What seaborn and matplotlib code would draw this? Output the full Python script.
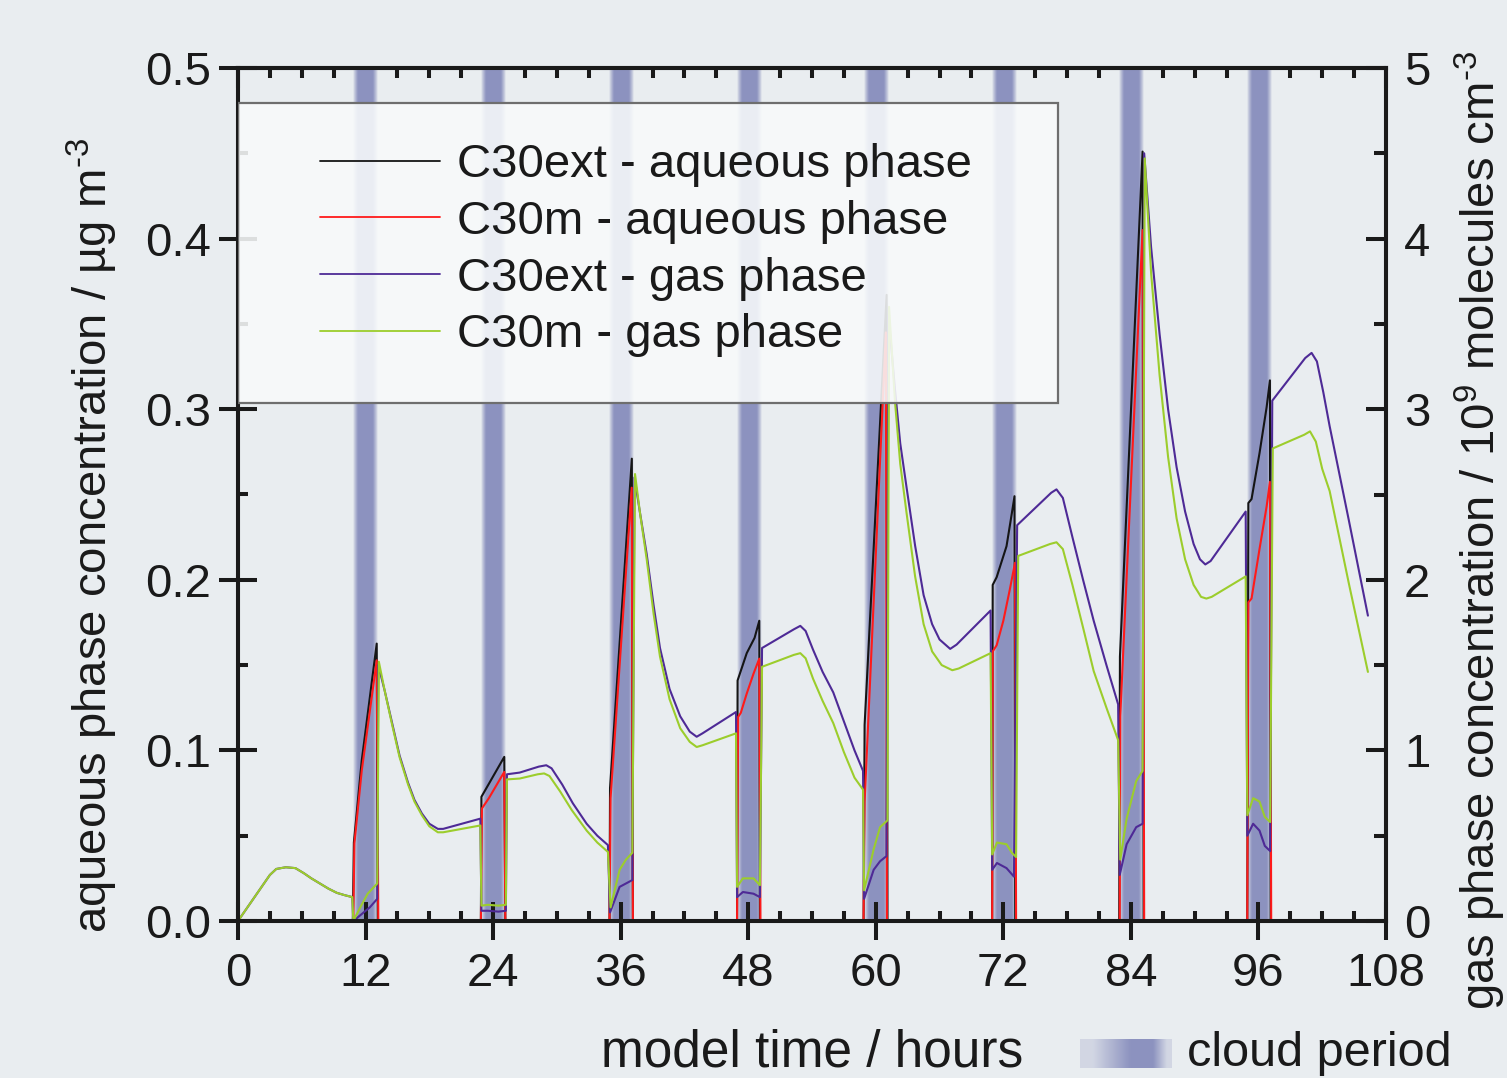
import matplotlib
matplotlib.use('Agg')
import matplotlib.pyplot as plt
import numpy as np
import seaborn as sns
from matplotlib.lines import Line2D
from matplotlib.patches import Rectangle
from matplotlib.ticker import MultipleLocator, FormatStrFormatter

# cloud periods (model hours)
cloud_start = [10.85, 22.85, 34.9, 46.9, 58.85, 70.9, 82.9, 94.9]
cloud_end = [13.15, 25.15, 37.2, 49.2, 61.15, 73.2, 85.2, 97.2]

# C30ext - aqueous phase (µg m-3)
aq_ext_t = [0.0, 10.8, 10.9, 11.64, 13.05, 13.15, 22.85, 22.9, 25.05, 25.15, 34.95, 35.0, 37.05, 37.15,
            46.95, 47.0, 47.86, 48.6, 49.04, 49.1, 58.85, 58.95, 61.02, 61.1, 70.95, 71.0, 71.37, 72.3, 72.8,
            73.05, 73.12, 82.9, 82.97, 85.1, 85.2, 94.95, 95.05, 95.35, 96.1, 96.77, 97.08, 97.15, 106.3]
aq_ext_v = [0.0, 0.0, 0.046, 0.094, 0.1626, 0.0, 0.0, 0.0728, 0.0962, 0.0, 0.0, 0.078, 0.271, 0.0,
            0.0, 0.141, 0.157, 0.166, 0.176, 0.0, 0.0, 0.115, 0.367, 0.0, 0.0, 0.197, 0.2015, 0.2197, 0.239,
            0.249, 0.0, 0.0, 0.155, 0.451, 0.0, 0.0, 0.245, 0.2473, 0.2742, 0.3012, 0.3169, 0.0, 0.0]

# C30m - aqueous phase (µg m-3)
aq_m_t = [0.0, 10.85, 10.95, 11.64, 13.05, 13.2, 22.85, 22.95, 23.6, 25.05, 25.15, 34.95, 35.05, 37.04, 37.15,
          46.95, 47.05, 47.3, 47.86, 48.5, 49.04, 49.15, 58.85, 58.95, 60.95, 61.05, 70.95, 71.0, 71.37, 72.0,
          72.6, 73.1, 73.2, 82.95, 83.0, 85.1, 85.25, 94.95, 95.05, 95.35, 96.1, 96.77, 97.08, 97.2, 106.3]
aq_m_v = [0.0, 0.0, 0.0455, 0.088, 0.1528, 0.0, 0.0, 0.066, 0.072, 0.0874, 0.0, 0.0, 0.072, 0.254, 0.0,
          0.0, 0.1196, 0.122, 0.1333, 0.145, 0.1538, 0.0, 0.0, 0.07, 0.345, 0.0, 0.0, 0.158, 0.1616, 0.176,
          0.194, 0.210, 0.0, 0.0, 0.12, 0.405, 0.0, 0.0, 0.1868, 0.189, 0.218, 0.243, 0.2574, 0.0, 0.0]

# C30ext - gas phase (10^9 molecules cm-3)
gas_ext_t = [0.0, 3.0, 3.6, 4.5, 5.4, 6.2, 6.9, 7.7, 8.5, 9.3, 10.0, 10.75,
             10.85, 12.4, 13.1, 13.2, 13.8, 14.5, 15.2, 16.0, 16.6, 17.3, 18.0, 18.8, 19.3, 22.8,
             22.9, 23.5, 24.5, 25.2, 25.3, 26.5, 28.3, 29.0, 29.5, 30.5, 31.5, 32.8, 33.8, 34.8,
             35.0, 35.9, 36.5, 37.1, 37.3, 37.8, 38.45, 39.1, 39.7, 40.6, 41.6, 42.5, 43.15, 43.7, 46.85,
             46.95, 47.5, 48.5, 49.1, 49.3, 52.3, 52.9, 53.4, 54.1, 55.0, 56.0, 57.0, 58.0, 58.8,
             58.9, 59.8, 60.4, 61.0, 61.2, 61.8, 62.3, 62.9, 63.7, 64.5, 65.3, 66.0, 67.0, 67.6, 70.8,
             70.95, 71.4, 72.3, 73.0, 73.3, 76.5, 77.0, 77.6, 78.5, 79.5, 80.5, 81.7, 82.8,
             82.95, 83.6, 84.5, 85.1, 85.25, 85.9, 86.7, 87.5, 88.3, 89.1, 89.9, 90.5, 91.0, 91.5, 94.8,
             94.95, 95.5, 96.1, 96.6, 97.1, 97.3, 100.4, 101.0, 101.5, 102.1, 102.7, 104.5, 106.3]
gas_ext_v = [0.0, 0.27, 0.305, 0.315, 0.31, 0.28, 0.25, 0.22, 0.19, 0.165, 0.152, 0.14,
             0.0, 0.08, 0.13, 1.50, 1.35, 1.16, 0.97, 0.81, 0.71, 0.63, 0.57, 0.54, 0.54, 0.60,
             0.06, 0.06, 0.055, 0.06, 0.86, 0.87, 0.905, 0.913, 0.895, 0.80, 0.69, 0.57, 0.50, 0.445,
             0.05, 0.20, 0.22, 0.24, 2.60, 2.40, 2.15, 1.85, 1.60, 1.36, 1.20, 1.11, 1.08, 1.10, 1.225,
             0.14, 0.17, 0.16, 0.14, 1.60, 1.71, 1.73, 1.70, 1.59, 1.46, 1.34, 1.17, 1.00, 0.88,
             0.13, 0.30, 0.35, 0.38, 3.55, 3.12, 2.80, 2.54, 2.20, 1.91, 1.74, 1.65, 1.595, 1.62, 1.82,
             0.30, 0.34, 0.31, 0.26, 2.32, 2.51, 2.53, 2.48, 2.25, 2.00, 1.76, 1.50, 1.27,
             0.27, 0.45, 0.55, 0.57, 4.50, 3.95, 3.44, 3.00, 2.66, 2.40, 2.21, 2.12, 2.09, 2.11, 2.40,
             0.50, 0.57, 0.53, 0.44, 0.41, 3.05, 3.30, 3.33, 3.28, 3.10, 2.90, 2.35, 1.79]

# C30m - gas phase (10^9 molecules cm-3)
gas_m_t = [0.0, 3.0, 3.6, 4.5, 5.4, 6.2, 6.9, 7.7, 8.5, 9.3, 10.0, 10.75,
           10.85, 11.5, 12.2, 13.1, 13.25, 13.8, 14.5, 15.2, 16.0, 16.6, 17.3, 18.0, 18.8, 19.3, 22.8,
           22.9, 23.5, 24.5, 25.2, 25.3, 26.5, 28.2, 28.8, 29.3, 30.3, 31.4, 32.8, 33.8, 34.8,
           35.05, 35.9, 36.5, 37.1, 37.35, 37.8, 38.45, 39.1, 39.7, 40.6, 41.6, 42.5, 43.15, 43.7, 46.85,
           46.95, 47.5, 48.5, 49.1, 49.3, 52.3, 52.9, 53.4, 54.1, 55.0, 56.0, 57.0, 58.0, 58.8,
           58.9, 59.8, 60.4, 61.1, 61.25, 61.8, 62.3, 62.9, 63.7, 64.5, 65.3, 66.2, 67.2, 67.8, 70.8,
           70.95, 71.4, 72.3, 72.8, 73.2, 73.4, 76.4, 77.0, 77.6, 78.5, 79.5, 80.5, 81.7, 82.8,
           83.0, 83.6, 84.5, 85.1, 85.3, 85.9, 86.7, 87.5, 88.3, 89.1, 89.9, 90.6, 91.1, 91.6, 94.8,
           94.95, 95.5, 96.1, 96.6, 97.1, 97.35, 100.3, 100.85, 101.4, 102.0, 102.7, 104.5, 106.3]
gas_m_v = [0.0, 0.27, 0.305, 0.315, 0.31, 0.28, 0.25, 0.22, 0.19, 0.165, 0.152, 0.14,
           0.0, 0.08, 0.16, 0.22, 1.52, 1.35, 1.15, 0.96, 0.80, 0.70, 0.62, 0.555, 0.52, 0.52, 0.56,
           0.09, 0.095, 0.09, 0.095, 0.83, 0.835, 0.86, 0.865, 0.85, 0.76, 0.65, 0.53, 0.46, 0.405,
           0.08, 0.30, 0.36, 0.40, 2.62, 2.40, 2.12, 1.80, 1.55, 1.30, 1.13, 1.05, 1.02, 1.03, 1.10,
           0.20, 0.25, 0.25, 0.21, 1.49, 1.56, 1.57, 1.54, 1.42, 1.29, 1.16, 0.99, 0.84, 0.77,
           0.18, 0.42, 0.55, 0.59, 3.60, 3.05, 2.68, 2.39, 2.02, 1.74, 1.58, 1.50, 1.47, 1.48, 1.57,
           0.39, 0.46, 0.45, 0.40, 0.375, 2.14, 2.21, 2.22, 2.18, 1.97, 1.72, 1.465, 1.25, 1.06,
           0.36, 0.60, 0.82, 0.88, 4.47, 3.80, 3.20, 2.72, 2.36, 2.12, 1.97, 1.90, 1.89, 1.90, 2.02,
           0.62, 0.72, 0.70, 0.61, 0.58, 2.77, 2.85, 2.87, 2.81, 2.65, 2.52, 1.98, 1.46]

labels = ['C30ext - aqueous phase', 'C30m - aqueous phase', 'C30ext - gas phase', 'C30m - gas phase']
colors = ['#151515', '#ff1a1a', '#4e2a96', '#9ccd2c']

bg = '#e9edf0'
sns.set_theme(style='ticks')
plt.rcParams['font.family'] = ['Liberation Sans', 'DejaVu Sans']
plt.rcParams['mathtext.fontset'] = 'custom'
plt.rcParams['mathtext.rm'] = 'Liberation Sans'
plt.rcParams['mathtext.default'] = 'regular'
plt.rcParams['text.color'] = '#1a1a1a'

fig = plt.figure(figsize=(15.07, 10.78), dpi=100, facecolor=bg)
ax = fig.add_axes([238 / 1507, 1 - 921 / 1078, 1148 / 1507, 853 / 1078])
ax.set_facecolor(bg)
ax2 = ax.twinx()

# cloud period bands: soft-edged blue columns
n = 80
xs = np.linspace(0, 1, n)
alpha = np.clip(np.minimum(xs, 1 - xs) / 0.2, 0, 1) ** 0.8
band = np.zeros((1, n, 4))
band[..., 0] = 0.55
band[..., 1] = 0.575
band[..., 2] = 0.75
band[..., 3] = alpha
for s, e in zip(cloud_start, cloud_end):
    ax.imshow(band, extent=[s, e, 0, 0.5], aspect='auto', interpolation='bilinear', zorder=0.5)

lw = 1.5
sns.lineplot(x=aq_ext_t, y=aq_ext_v, ax=ax, color=colors[0], lw=lw, estimator=None, sort=False, zorder=3)
sns.lineplot(x=aq_m_t, y=aq_m_v, ax=ax, color=colors[1], lw=lw, estimator=None, sort=False, zorder=4)
sns.lineplot(x=gas_ext_t, y=gas_ext_v, ax=ax2, color=colors[2], lw=lw, estimator=None, sort=False, zorder=2)
sns.lineplot(x=gas_m_t, y=gas_m_v, ax=ax2, color=colors[3], lw=lw, estimator=None, sort=False, zorder=2)

ax.set_xlim(0, 108)
ax.set_ylim(0, 0.5)
ax2.set_ylim(0, 5)
ax.set_xlabel('')
ax.set_ylabel('')
ax2.set_ylabel('')

ax.xaxis.set_major_locator(MultipleLocator(12))
ax.xaxis.set_minor_locator(MultipleLocator(3))
ax.yaxis.set_major_locator(MultipleLocator(0.1))
ax.yaxis.set_minor_locator(MultipleLocator(0.05))
ax.yaxis.set_major_formatter(FormatStrFormatter('%.1f'))
ax2.yaxis.set_major_locator(MultipleLocator(1))
ax2.yaxis.set_minor_locator(MultipleLocator(0.5))

fs = 34
tc = '#1a1a1a'
ax.tick_params(axis='x', which='major', direction='inout', length=27, width=2.9, pad=9, labelsize=fs,
               color=tc, labelcolor=tc, top=False)
ax.tick_params(axis='x', which='minor', direction='in', length=7, width=2.9, color=tc, top=False)
ax.tick_params(axis='y', which='major', direction='inout', length=27, width=2.9, pad=6, labelsize=fs,
               color=tc, labelcolor=tc, right=False)
ax.tick_params(axis='y', which='minor', direction='in', length=7, width=2.9, color=tc, right=False)
ax2.tick_params(axis='y', which='major', direction='in', length=14.5, width=2.9, pad=13, labelsize=fs,
                color=tc, labelcolor=tc)
ax2.tick_params(axis='y', which='minor', direction='in', length=8.5, width=2.9, color=tc)

top = ax.secondary_xaxis('top')
top.xaxis.set_major_locator(MultipleLocator(12))
top.xaxis.set_minor_locator(MultipleLocator(3))
top.tick_params(which='major', direction='in', length=14.5, width=2.9, labeltop=False, color=tc)
top.tick_params(which='minor', direction='in', length=7, width=2.9, color=tc)

for a in (ax, ax2, top):
    for sp in a.spines.values():
        sp.set_linewidth(2.9)
        sp.set_color(tc)

# legend box
box = Rectangle((0, 0.607), 0.714, 0.352, transform=ax2.transAxes, facecolor='#f8fafb', alpha=0.88,
                edgecolor='none', zorder=6)
ax2.add_patch(box)
frame = Rectangle((0, 0.607), 0.714, 0.352, transform=ax2.transAxes, facecolor='none',
                  edgecolor='#6e6e6e', lw=1.6, zorder=7)
ax2.add_patch(frame)
handles = [Line2D([], [], color=c, lw=1.3) for c in colors]
leg = ax2.legend(handles, labels, loc='upper left', bbox_to_anchor=(0.0714, 0.912), frameon=False,
                 fontsize=fs, handlelength=2.55, handletextpad=0.36, labelspacing=0.27, borderpad=0,
                 borderaxespad=0)
leg.set_zorder(8)
for t in leg.get_texts():
    t.set_color(tc)

# axis titles
fig.text(92 / 1507, 1 - 535 / 1078, r'aqueous phase concentration / µg m$^{\text{-3}}$', rotation=90,
         ha='center', va='center', fontsize=34, color=tc)
fig.text(1480 / 1507, 1 - 530 / 1078, r'gas phase concentration / 10$^{9}$ molecules cm$^{\text{-3}}$',
         rotation=90, ha='center', va='center', fontsize=34, color=tc)
fig.text(812 / 1507, 1 - 1053 / 1078, 'model time / hours', ha='center', va='center', fontsize=37, color=tc)

# cloud period key
kax = fig.add_axes([1080 / 1507, 1 - 1068 / 1078, 92 / 1507, 29 / 1078])
kx = np.linspace(0, 1, 100)
kalpha = np.clip(np.minimum(kx / 0.55, (1 - kx) / 0.2), 0.25, 1)
key = np.zeros((1, 100, 4))
key[..., 0] = 0.55
key[..., 1] = 0.575
key[..., 2] = 0.75
key[..., 3] = kalpha
kax.imshow(key, extent=[0, 1, 0, 1], aspect='auto', interpolation='bilinear')
kax.set_axis_off()
fig.text(1187 / 1507, 1 - 1053 / 1078, 'cloud period', ha='left', va='center', fontsize=35, color=tc)

fig.savefig('out.png', dpi=100, facecolor=bg)
